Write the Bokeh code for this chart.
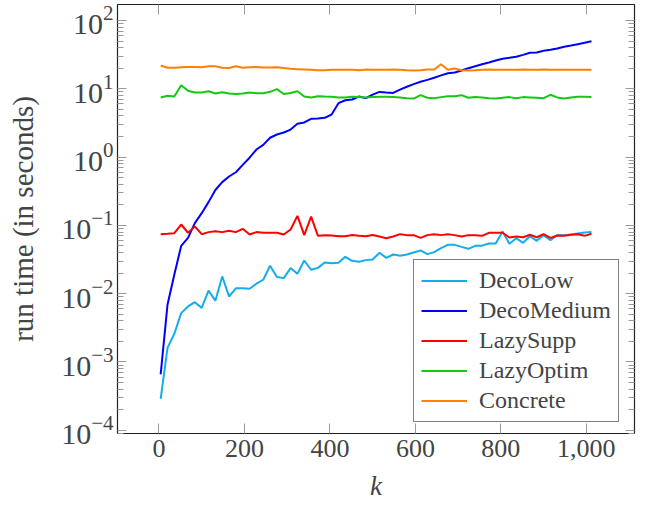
from bokeh.plotting import figure
from bokeh.models import (Range1d, FixedTicker, LogTickFormatter, NumeralTickFormatter,
                          BasicTickFormatter, LinearAxis, LogAxis, Legend, LegendItem)
from bokeh.embed import file_html
from bokeh.resources import INLINE

# x positions (k)
k = list(range(4, 1013, 16))

deco_low = [2.89e-4, 1.61e-3, 2.59e-3, 5.19e-3, 6.5e-3, 7.5e-3, 6.2e-3, 0.0111, 7.9e-3, 0.0179,
            9.1e-3, 0.0120, 0.0120, 0.0118, 0.0140, 0.0160, 0.0256, 0.0175, 0.0169, 0.0237,
            0.0196, 0.0306, 0.0224, 0.0239, 0.0286, 0.0280, 0.0283, 0.0347, 0.0303, 0.0293,
            0.0310, 0.0317, 0.0397, 0.0335, 0.0375, 0.0359, 0.0375, 0.0401, 0.0429, 0.0379,
            0.0406, 0.0464, 0.0519, 0.0519, 0.0485, 0.0454, 0.0502, 0.0505, 0.0543, 0.0543,
            0.0815, 0.0537, 0.0650, 0.0556, 0.0695, 0.0594, 0.0720, 0.0608, 0.0720, 0.0720,
            0.0736, 0.0761, 0.0787, 0.0797]

deco_medium = [6.6e-4, 6.9e-3, 0.0191, 0.050, 0.0657, 0.108, 0.151, 0.219, 0.33, 0.43,
               0.52, 0.60, 0.77, 0.98, 1.29, 1.51, 1.92, 2.14, 2.29, 2.53,
               3.07, 3.21, 3.64, 3.67, 3.76, 4.2, 6.15, 6.8, 6.97, 7.7,
               7.3, 8.2, 9.0, 8.8, 8.7, 9.7, 10.7, 11.7, 12.7, 13.5,
               14.5, 15.7, 16.9, 17.3, 18.5, 20.0, 21.4, 22.9, 24.3, 25.9,
               27.5, 28.4, 29.4, 31.4, 33.6, 34.0, 36.0, 37.2, 38.9, 41.2,
               43.0, 45.0, 47.1, 49.8]

lazy_supp = [0.0743, 0.0753, 0.0770, 0.103, 0.078, 0.0964, 0.0743, 0.0797, 0.0823, 0.0797,
             0.0833, 0.0797, 0.089, 0.0736, 0.0797, 0.078, 0.078, 0.078, 0.0736, 0.0871,
             0.138, 0.0719, 0.134, 0.0703, 0.0719, 0.0711, 0.0695, 0.0695, 0.0725, 0.0703,
             0.0695, 0.0725, 0.0687, 0.0650, 0.0687, 0.0744, 0.0720, 0.0720, 0.0657, 0.0720,
             0.0744, 0.0720, 0.0744, 0.0720, 0.0687, 0.0720, 0.0720, 0.0703, 0.0779, 0.0779,
             0.0779, 0.0665, 0.0687, 0.0671, 0.0728, 0.0671, 0.0744, 0.0657, 0.0711, 0.0703,
             0.0728, 0.0744, 0.0703, 0.0753]

lazy_optim = [7.47, 7.9, 7.7, 11.3, 9.35, 8.84, 8.84, 9.2, 8.53, 8.9,
              8.53, 8.4, 8.53, 8.84, 8.6, 8.6, 9.03, 9.87, 8.4, 8.7,
              9.2, 7.7, 7.47, 7.8, 7.7, 7.63, 7.47, 7.47, 7.63, 7.55,
              7.47, 7.55, 7.63, 7.63, 7.55, 7.47, 7.28, 7.2, 8.07, 7.38,
              7.28, 7.55, 7.8, 7.8, 8.07, 7.38, 7.55, 7.47, 7.28, 7.2,
              7.38, 7.55, 7.28, 7.55, 7.47, 7.38, 7.28, 8.17, 7.47, 7.2,
              7.47, 7.63, 7.63, 7.55]

concrete = [21.9, 20.3, 20.3, 20.7, 20.9, 20.9, 20.7, 21.4, 21.4, 20.3,
            20.1, 21.4, 20.3, 20.7, 20.9, 20.5, 20.5, 20.7, 20.1, 19.6,
            19.4, 19.2, 19.0, 18.7, 18.7, 19.0, 19.0, 19.0, 19.0, 18.7,
            19.2, 19.0, 19.0, 19.0, 19.2, 19.0, 18.7, 18.5, 18.7, 19.2,
            19.2, 22.9, 19.0, 19.8, 18.7, 18.5, 18.7, 19.0, 19.2, 19.0,
            19.0, 19.0, 19.0, 19.2, 19.0, 19.0, 19.2, 19.0, 19.0, 19.0,
            19.0, 19.0, 19.0, 19.0]

series_names = ["DecoLow", "DecoMedium", "LazySupp", "LazyOptim", "Concrete"]
series_values = [deco_low, deco_medium, lazy_supp, lazy_optim, concrete]
series_colors = ["#14ADEB", "#0000FF", "#FF0000", "#14C814", "#FF8000"]

x_ticks = [0, 200, 400, 600, 800, 1000]
y_ticks = [1e-4, 1e-3, 1e-2, 1e-1, 1e0, 1e1, 1e2]
y_minor = [m * t for t in [1e-5] + y_ticks for m in range(2, 10)]

FONT = "Liberation Serif"

p = figure(width=647, height=505, output_backend="svg", toolbar_location=None,
           y_axis_type="log",
           x_range=Range1d(-97, 1112.7), y_range=Range1d(10 ** -4.047, 10 ** 2.234),
           min_border_left=117, min_border_right=13, min_border_top=4, min_border_bottom=72)
p.background_fill_color = "white"
p.border_fill_color = "white"
p.outline_line_color = "#222222"
p.outline_line_width = 1.2
p.xgrid.visible = False
p.ygrid.visible = False

renderers = []
for name, vals, col in zip(series_names, series_values, series_colors):
    r = p.line(k, vals, line_color=col, line_width=2)
    renderers.append(r)

TICK_COL = "#9a9a9a"

xt = FixedTicker(ticks=x_ticks)
yt = FixedTicker(ticks=y_ticks, minor_ticks=y_minor)

for ax in p.xaxis:
    ax.ticker = xt
    ax.formatter = NumeralTickFormatter(format="0,0")
    ax.axis_label = "k"
    ax.axis_label_text_font = FONT
    ax.axis_label_text_font_style = "italic"
    ax.axis_label_text_font_size = "27px"
    ax.axis_label_standoff = 11
    ax.major_label_text_font = FONT
    ax.major_label_text_font_size = "26px"
    ax.major_label_standoff = 6
    ax.major_tick_in = 10
    ax.major_tick_out = 0
    ax.minor_tick_line_color = None
    ax.major_tick_line_color = TICK_COL
    ax.axis_line_color = None

for ax in p.yaxis:
    ax.ticker = yt
    ax.formatter = LogTickFormatter()
    ax.axis_label = "run time (in seconds)"
    ax.axis_label_text_font = FONT
    ax.axis_label_text_font_style = "normal"
    ax.axis_label_text_font_size = "29px"
    ax.axis_label_standoff = 19
    ax.major_label_text_font = FONT
    ax.major_label_text_font_size = "30px"
    ax.major_label_standoff = 4
    ax.major_tick_in = 9
    ax.major_tick_out = 0
    ax.minor_tick_in = 6
    ax.minor_tick_out = 0
    ax.major_tick_line_color = TICK_COL
    ax.minor_tick_line_color = TICK_COL
    ax.axis_line_color = None

top_ax = LinearAxis(ticker=xt, formatter=BasicTickFormatter(),
                    major_label_text_font_size="1px", major_label_text_alpha=0,
                    major_label_standoff=0,
                    major_tick_in=10, major_tick_out=0, minor_tick_line_color=None,
                    major_tick_line_color=TICK_COL, axis_line_color=None)
p.add_layout(top_ax, "above")
right_ax = LogAxis(ticker=yt, formatter=BasicTickFormatter(),
                   major_label_text_font_size="1px", major_label_text_alpha=0,
                   major_label_standoff=0,
                   major_tick_in=9, major_tick_out=0, minor_tick_in=6, minor_tick_out=0,
                   major_tick_line_color=TICK_COL, minor_tick_line_color=TICK_COL,
                   axis_line_color=None)
p.add_layout(right_ax, "right")

legend = Legend(items=[LegendItem(label=n, renderers=[r]) for n, r in zip(series_names, renderers)],
                location=(296, 11), margin=0, padding=7, spacing=3,
                glyph_width=46, glyph_height=27, label_height=27, label_width=20,
                label_standoff=12, label_text_font=FONT, label_text_font_size="24px",
                border_line_color="black", border_line_width=1,
                background_fill_color="white", background_fill_alpha=1.0)
p.add_layout(legend)

open("out.html", "w").write(file_html(p, INLINE))
